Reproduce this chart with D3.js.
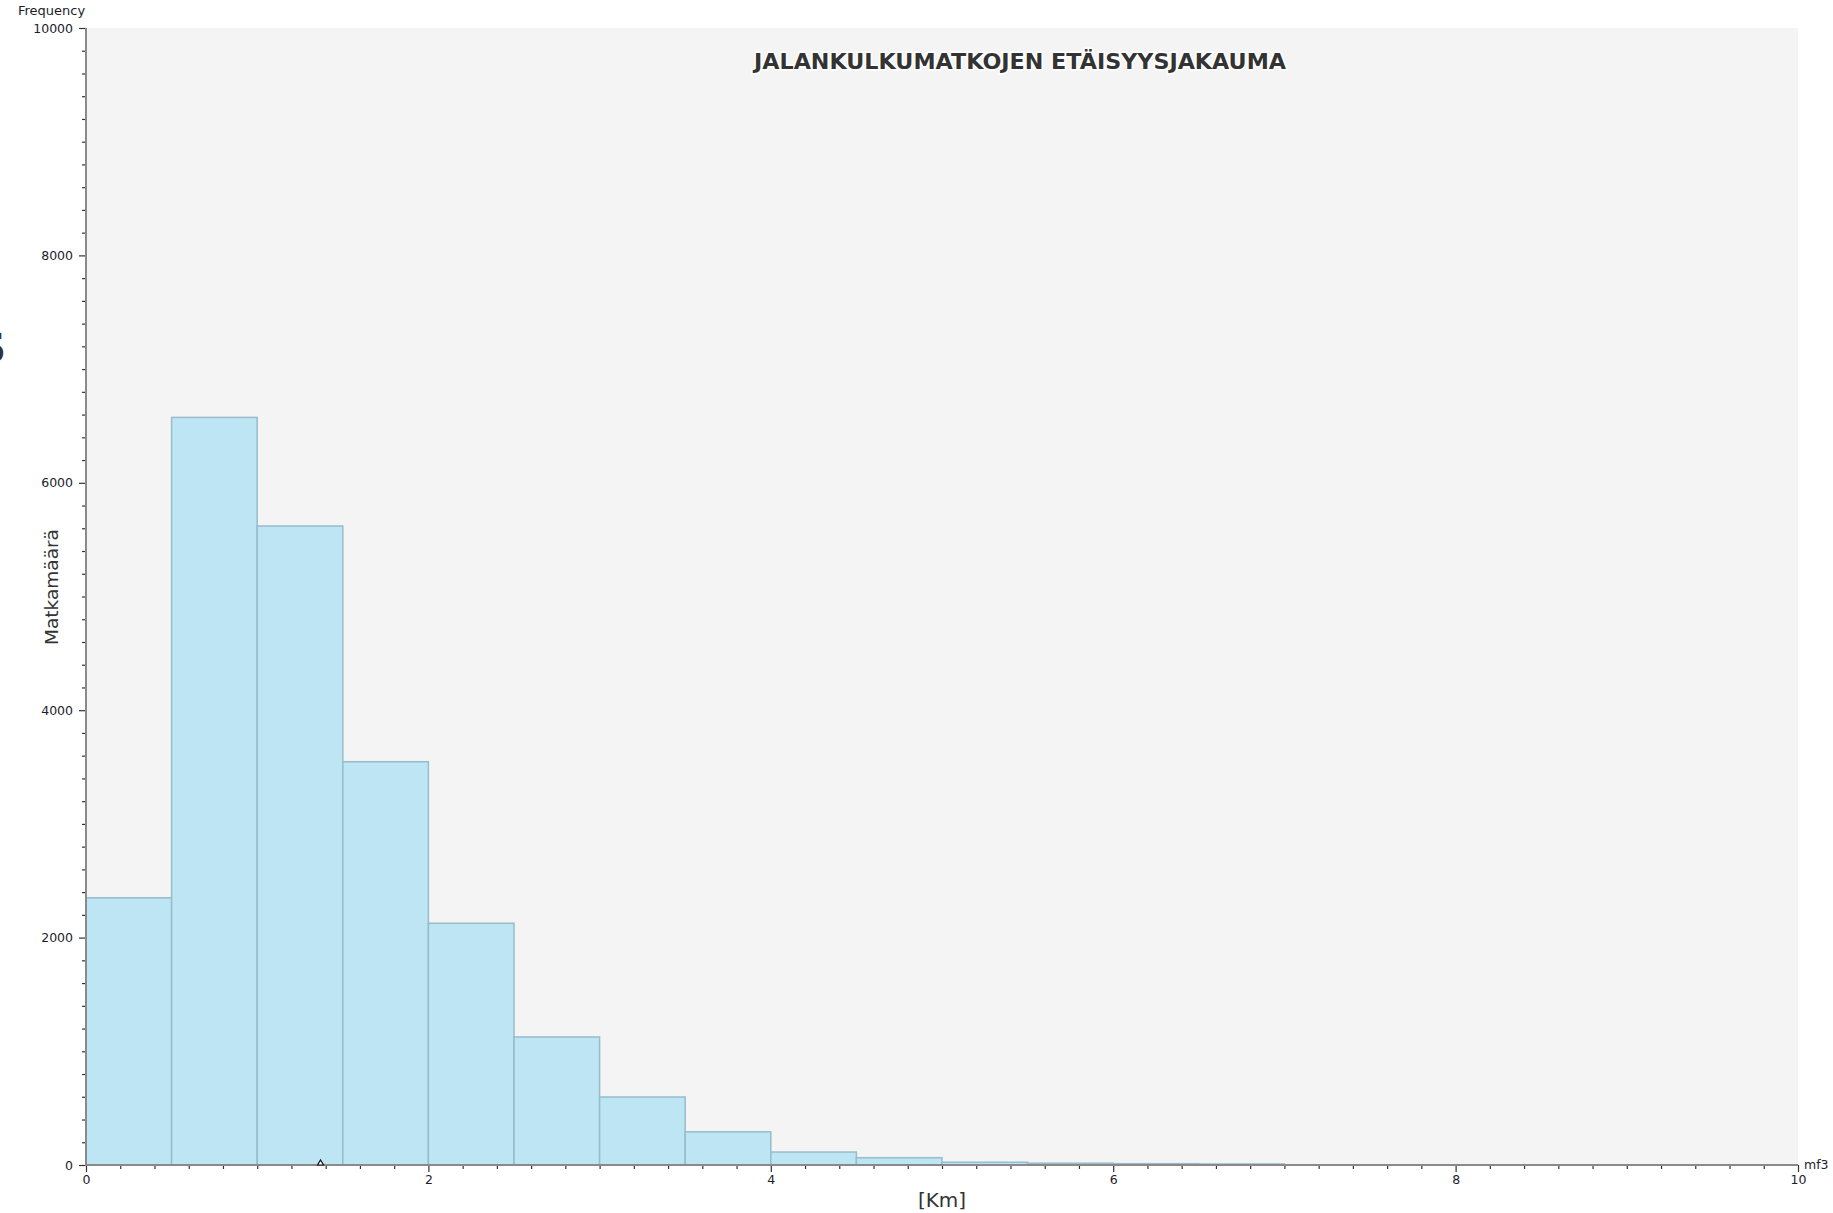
<!DOCTYPE html>
<html>
<head>
<meta charset="utf-8">
<script src="https://cdn.jsdelivr.net/npm/d3@7"></script>
<style>
  html, body { margin: 0; padding: 0; background: #ffffff; }
  svg { display: block; }
  text { font-family: "DejaVu Sans", Verdana, sans-serif; }
</style>
</head>
<body>
<svg id="chart" width="1833" height="1213"></svg>
<script>
// ---- Data ----
const binEdges = [0, 0.5, 1, 1.5, 2, 2.5, 3, 3.5, 4, 4.5, 5, 5.5, 6, 6.5, 7];
const binCounts = [2350, 6575, 5620, 3547, 2126, 1126, 598, 292, 114, 64, 24, 16, 12, 9];
const xMajorTicks = [0, 2, 4, 6, 8, 10];
const yMajorTicks = [0, 2000, 4000, 6000, 8000, 10000];
const markerValues = [1.37];
const titleText = "JALANKULKUMATKOJEN ETÄISYYSJAKAUMA";
const xLabel = "[Km]";
const yLabel = "Matkamäärä";
const yUnitLabel = "Frequency";
const xUnitLabel = "mf3";

// ---- Layout ----
const L = 86, R = 1798, T = 28, B = 1165;
const svg = d3.select("#chart");

const x = d3.scaleLinear().domain([0, 10]).range([L, R]);
const y = d3.scaleLinear().domain([0, 10000]).range([B, T]);

// plot background
svg.append("rect").attr("x", L).attr("y", T).attr("width", R - L).attr("height", B - T)
  .attr("fill", "#f4f4f4");

// bars
const bins = binCounts.map((c, i) => ({ x0: binEdges[i], x1: binEdges[i + 1], v: c }));
svg.append("g").selectAll("rect").data(bins).join("rect")
  .attr("x", d => x(d.x0))
  .attr("y", d => y(d.v))
  .attr("width", d => x(d.x1) - x(d.x0))
  .attr("height", d => y(0) - y(d.v))
  .attr("fill", "#bde5f4")
  .attr("stroke", "#97bccb")
  .attr("stroke-width", 1.5);

// minor ticks
const yMinor = d3.range(0, 10001, 200).filter(v => v % 2000 !== 0);
const xMinor = d3.range(0, 51).map(i => i * 0.2).filter(v => Math.abs(v / 2 - Math.round(v / 2)) > 1e-6);

const gyMinor = svg.append("g").attr("transform", `translate(${L},0)`)
  .call(d3.axisLeft(y).tickValues(yMinor).tickSize(4).tickFormat(""));
const gxMinor = svg.append("g").attr("transform", `translate(0,${B})`)
  .call(d3.axisBottom(x).tickValues(xMinor).tickSize(4).tickFormat(""));
[gyMinor, gxMinor].forEach(g => {
  g.select(".domain").remove();
  g.selectAll("line").attr("stroke", "#333").attr("stroke-width", 1.2);
});

// major axes
const gy = svg.append("g").attr("transform", `translate(${L},0)`)
  .call(d3.axisLeft(y).tickValues(yMajorTicks).tickSize(7).tickPadding(6).tickFormat(d3.format("d")));
const gx = svg.append("g").attr("transform", `translate(0,${B})`)
  .call(d3.axisBottom(x).tickValues(xMajorTicks).tickSize(7).tickPadding(3).tickFormat(d3.format("d")));
[gy, gx].forEach(g => {
  g.selectAll(".tick line").attr("stroke", "#333").attr("stroke-width", 1.2);
  g.selectAll(".tick text").attr("fill", "#1c1c2c").attr("font-size", 12.5)
    .attr("font-family", '"DejaVu Sans", Verdana, sans-serif');
});
gy.select(".domain").remove();
gx.select(".domain").remove();
svg.append("line").attr("x1", L).attr("x2", L).attr("y1", T).attr("y2", B + 1)
  .attr("stroke", "#8a8a8a").attr("stroke-width", 2);
svg.append("line").attr("x1", L - 1).attr("x2", R).attr("y1", B).attr("y2", B)
  .attr("stroke", "#8a8a8a").attr("stroke-width", 2);

// marker on x axis
svg.append("g").selectAll("path").data(markerValues).join("path")
  .attr("d", d => `M${x(d)},${B - 5} L${x(d) + 3},${B} L${x(d) - 3},${B} Z`)
  .attr("fill", "#ffffff").attr("stroke", "#111").attr("stroke-width", 1.2);

// unit labels
svg.append("text").attr("x", 18).attr("y", 15).attr("font-size", 13)
  .attr("fill", "#1c1c2c").text(yUnitLabel);
svg.append("text").attr("x", 1804).attr("y", 1169).attr("font-size", 12.5)
  .attr("fill", "#1c1c2c").text(xUnitLabel);

// axis titles
svg.append("text").attr("x", (L + R) / 2).attr("y", 1207).attr("text-anchor", "middle")
  .attr("font-size", 20).attr("fill", "#333").text(xLabel);
svg.append("text").attr("transform", `translate(58,${587}) rotate(-90)`)
  .attr("text-anchor", "middle").attr("font-size", 18.5).attr("fill", "#333").text(yLabel);

// chart title with light halo
svg.append("text").attr("x", 1020).attr("y", 69).attr("text-anchor", "middle")
  .attr("font-size", 22).attr("font-weight", "bold").attr("fill", "#333")
  .attr("stroke", "#ffffff").attr("stroke-width", 3).attr("paint-order", "stroke")
  .attr("textLength", 532).attr("lengthAdjust", "spacingAndGlyphs")
  .text(titleText);

// clipped fragment of a large letter at the left edge (as in the reference)
svg.append("text").attr("x", 6).attr("y", 362).attr("text-anchor", "end")
  .attr("font-size", 40).attr("font-weight", "bold").attr("fill", "#333").text("S");
</script>
</body>
</html>
